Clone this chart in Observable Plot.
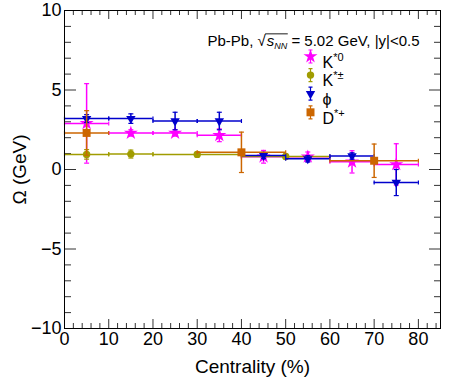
<!DOCTYPE html>
<html>
<head>
<meta charset="utf-8">
<script src="https://cdn.jsdelivr.net/npm/d3@7"></script>
<script src="https://cdn.jsdelivr.net/npm/@observablehq/plot@0.6"></script>
<style>
  html, body { margin: 0; padding: 0; background: #fff; }
</style>
</head>
<body>
<div id="chart"></div>
<script>
// ---------- data ----------
const xTicks = [0, 10, 20, 30, 40, 50, 60, 70, 80];
const yTicks = [-10, -5, 0, 5, 10];
const xLabel = "Centrality (%)";
const yLabel = "Ω (GeV)";
const titleText = "Pb-Pb, √s_NN = 5.02 GeV, |y|<0.5";

const seriesLabels = ["K^*0", "K^*±", "ϕ", "D^*+"];
const seriesColors = ["#ff00ff", "#a09c00", "#0000cc", "#cc6600"];

// K*0
const kst0X   = [5, 15, 25, 35, 45, 55, 65, 75];
const kst0Lo  = [0, 10, 20, 30, 40, 50, 60, 70];
const kst0Hi  = [10, 20, 30, 40, 50, 60, 70, 80];
const kst0Y   = [2.9, 2.3, 2.3, 2.15, 0.8, 0.8, 0.48, 0.32];
const kst0Err = [2.5, 0.2, 0.2, 0.4, 0.4, 0.3, 0.7, 1.3];

// K*±
const kstcX   = [5, 15, 30, 50];
const kstcLo  = [0, 10, 20, 40];
const kstcHi  = [10, 20, 40, 60];
const kstcY   = [0.95, 0.97, 0.95, 0.82];
const kstcErr = [0.3, 0.25, 0.15, 0.15];

// phi
const phiX   = [5, 15, 25, 35, 45, 55, 65, 75];
const phiLo  = [0, 10, 20, 30, 40, 50, 60, 70];
const phiHi  = [10, 20, 30, 40, 50, 60, 70, 80];
const phiY   = [3.2, 3.2, 3.05, 3.05, 0.88, 0.67, 0.85, -0.82];
const phiErr = [0.25, 0.3, 0.55, 0.55, 0.2, 0.2, 0.2, 0.82];

// D*+
const dstX   = [5, 40, 70];
const dstLo  = [0, 30, 60];
const dstHi  = [10, 50, 80];
const dstY   = [2.3, 1.08, 0.55];
const dstErr = [1.4, 1.27, 1.05];

// ---------- helpers ----------
const rows = (x, lo, hi, y, err) => x.map((v, i) => ({x: v, lo: lo[i], hi: hi[i], y: y[i], err: err[i]}));
const kst0 = rows(kst0X, kst0Lo, kst0Hi, kst0Y, kst0Err);
const kstc = rows(kstcX, kstcLo, kstcHi, kstcY, kstcErr);
const phi  = rows(phiX, phiLo, phiHi, phiY, phiErr);
const dst  = rows(dstX, dstLo, dstHi, dstY, dstErr);

const capH = {draw(ctx, size) { const r = Math.sqrt(size / Math.PI); ctx.moveTo(-r, 0); ctx.lineTo(r, 0); }};
const capV = {draw(ctx, size) { const r = Math.sqrt(size / Math.PI); ctx.moveTo(0, -r); ctx.lineTo(0, r); }};
const errSym = {draw(ctx, size) {
  const r = Math.sqrt(size / Math.PI);
  ctx.moveTo(0, -r); ctx.lineTo(0, r);
  ctx.moveTo(-2, -r); ctx.lineTo(2, -r);
  ctx.moveTo(-2, r); ctx.lineTo(2, r);
}};

const W = 471, H = 379;
const mL = 64, mR = 31, mT = 10, mB = 51;
const iW = W - mL - mR, iH = H - mT - mB;

function seriesMarks(data, color, symbol, r, rotate = 0) {
  return [
    Plot.ruleY(data, {y: "y", x1: "lo", x2: "hi", stroke: color, strokeWidth: 1.5}),
    Plot.dot(data, {x: "lo", y: "y", symbol: capV, r: 2, stroke: color, strokeWidth: 1.2}),
    Plot.dot(data, {x: "hi", y: "y", symbol: capV, r: 2, stroke: color, strokeWidth: 1.2}),
    Plot.ruleX(data, {x: "x", y1: d => d.y - d.err, y2: d => d.y + d.err, stroke: color, strokeWidth: 1.5}),
    Plot.dot(data, {x: "x", y: d => d.y + d.err, symbol: capH, r: 2.5, stroke: color, strokeWidth: 1.2}),
    Plot.dot(data, {x: "x", y: d => d.y - d.err, symbol: capH, r: 2.5, stroke: color, strokeWidth: 1.2}),
    Plot.dot(data, {x: "x", y: "y", symbol, r, fill: color, rotate})
  ];
}

const symbols = [d3.symbolStar, "circle", "triangle", "square"];
const symR = [4.4, 3.7, 3.5, 4.5];
const symRot = [0, 0, 180, 0];

const yMinor = d3.range(-10, 11).filter(v => v % 5 !== 0);
const xMinor = d3.range(0, 86, 2).filter(v => v % 10 !== 0);

const tickColor = "#333";
const frameMarks = [
  Plot.tickY(yTicks, {y: d => d, insetRight: iW - 12, stroke: tickColor}),
  Plot.tickY(yMinor, {y: d => d, insetRight: iW - 7, stroke: tickColor}),
  Plot.tickY(yTicks, {y: d => d, insetLeft: iW - 11, stroke: tickColor}),
  Plot.tickY(yMinor, {y: d => d, insetLeft: iW - 6, stroke: tickColor}),
  Plot.tickX(xTicks, {x: d => d, insetTop: iH - 9, stroke: tickColor}),
  Plot.tickX(xMinor, {x: d => d, insetTop: iH - 5, stroke: tickColor}),
  Plot.tickX(xTicks, {x: d => d, insetBottom: iH - 9, stroke: tickColor}),
  Plot.tickX(xMinor, {x: d => d, insetBottom: iH - 5, stroke: tickColor}),
];

// legend
const legendMarks = [];
seriesLabels.forEach((lab, i) => {
  const dy = 46 + i * 18.6;
  legendMarks.push(Plot.dot([lab], {frameAnchor: "top-left", dx: 246, dy, symbol: errSym, r: 6.5, stroke: seriesColors[i], strokeWidth: 1.2}));
  legendMarks.push(Plot.dot([lab], {frameAnchor: "top-left", dx: 246, dy, symbol: symbols[i], r: symR[i], fill: seriesColors[i], rotate: symRot[i]}));
  legendMarks.push(Plot.text([lab], {frameAnchor: "top-left", dx: 258, dy, text: d => d, textAnchor: "start", fontSize: 16, fill: "black"}));
});
legendMarks.push(Plot.text([titleText], {frameAnchor: "top-left", dx: 143, dy: 24.5, text: d => d, textAnchor: "start", fontSize: 15, fill: "black"}));

const chart = Plot.plot({
  width: W, height: H,
  marginLeft: mL, marginRight: mR, marginTop: mT, marginBottom: mB,
  style: {fontFamily: "'Liberation Sans', Arial, sans-serif", background: "white", color: "black"},
  x: {domain: [0, 85]},
  y: {domain: [-10, 10]},
  marks: [
    ...frameMarks,
    Plot.axisX(xTicks, {anchor: "bottom", tickSize: 0, tickPadding: 4, fontSize: 18, label: null}),
    Plot.axisX({anchor: "bottom", ticks: [], tickSize: 0, fontSize: 19, label: xLabel, labelAnchor: "center", labelOffset: 44, labelArrow: "none"}),
    Plot.axisY(yTicks, {anchor: "left", tickSize: 0, tickPadding: 3, fontSize: 18, label: null}),
    Plot.axisY({anchor: "left", ticks: [], tickSize: 0, fontSize: 19, label: yLabel, labelAnchor: "center", labelOffset: 52, labelArrow: "none"}),
    ...seriesMarks(kst0, seriesColors[0], symbols[0], symR[0], symRot[0]),
    ...seriesMarks(kstc, seriesColors[1], symbols[1], symR[1], symRot[1]),
    ...seriesMarks(phi,  seriesColors[2], symbols[2], symR[2], symRot[2]),
    ...seriesMarks(dst,  seriesColors[3], symbols[3], symR[3], symRot[3]),
    ...legendMarks,
    Plot.frame({stroke: "black", strokeWidth: 1})
  ]
});
document.getElementById("chart").appendChild(chart);

// ---------- rich text (superscripts, subscripts) ----------
const NS = "http://www.w3.org/2000/svg";
chart.querySelectorAll("text").forEach(t => {
  const s = t.textContent;
  if (s.includes("^")) {
    const [base, sup] = s.split("^");
    t.textContent = base;
    const ts = document.createElementNS(NS, "tspan");
    ts.setAttribute("dy", "-7");
    ts.setAttribute("font-size", "11");
    ts.textContent = sup;
    t.appendChild(ts);
  } else if (s.includes("_NN")) {
    const [pre, post] = s.split("s_NN");
    t.textContent = "";
    const a = document.createElementNS(NS, "tspan"); a.textContent = pre; t.appendChild(a);
    const b = document.createElementNS(NS, "tspan"); b.textContent = "s"; b.setAttribute("font-style", "italic"); b.setAttribute("dx", "1"); t.appendChild(b);
    const c = document.createElementNS(NS, "tspan"); c.textContent = "NN"; c.setAttribute("font-style", "italic"); c.setAttribute("font-size", "9"); c.setAttribute("dy", "3"); t.appendChild(c);
    const d = document.createElementNS(NS, "tspan"); d.textContent = post; d.setAttribute("dy", "-3"); t.appendChild(d);
    const idx = pre.length - 1;
    const full = pre + "sNN";
    try {
      const e0 = t.getExtentOfChar(idx);
      const e1 = t.getExtentOfChar(full.length - 1);
      const line = document.createElementNS(NS, "line");
      const y0 = e0.y + 2.2;
      line.setAttribute("x1", e0.x + e0.width - 0.6);
      line.setAttribute("x2", e1.x + e1.width + 0.5);
      line.setAttribute("y1", y0); line.setAttribute("y2", y0);
      line.setAttribute("stroke", "black"); line.setAttribute("stroke-width", "0.9");
      const tr = t.getAttribute("transform");
      if (tr) line.setAttribute("transform", tr);
      t.parentNode.appendChild(line);
    } catch (err) {}
  }
});
</script>
</body>
</html>
